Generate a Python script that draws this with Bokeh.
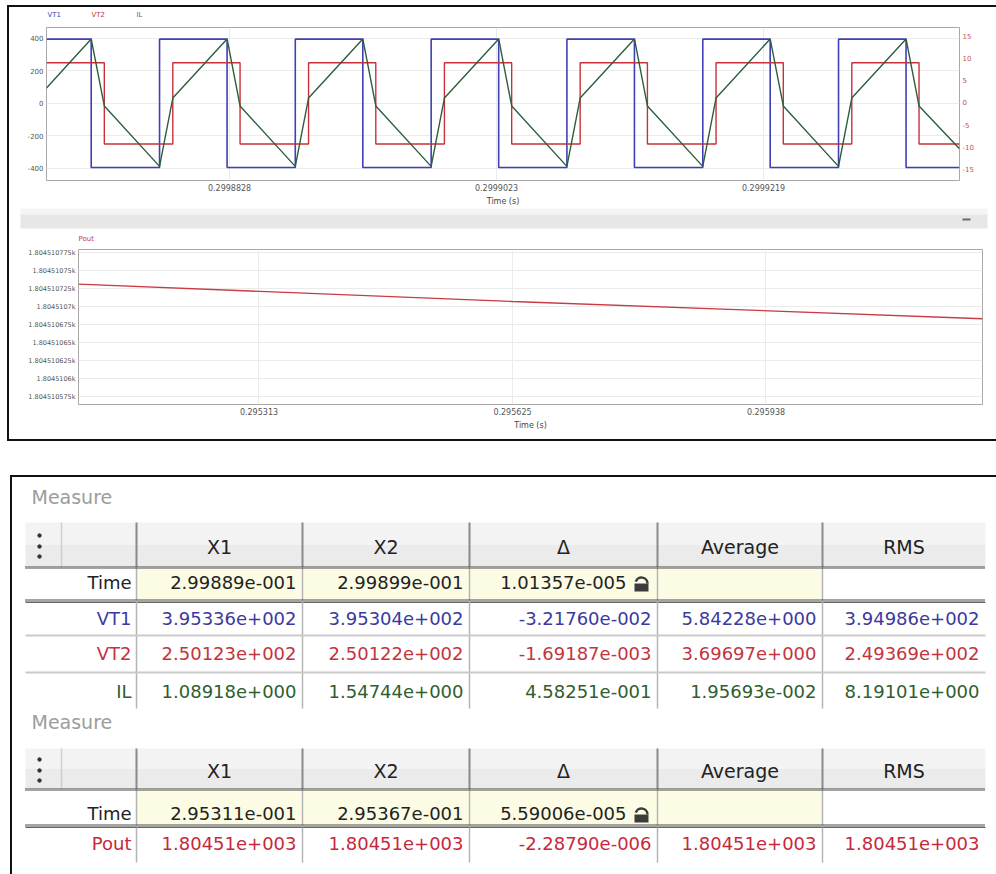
from math import pi

from bokeh.core.properties import value
from bokeh.embed import file_html
from bokeh.layouts import column
from bokeh.models import FixedTicker, LinearAxis, Range1d
from bokeh.plotting import figure
from bokeh.resources import INLINE

FONT = "DejaVu Sans"

# ---------------- waveform window: VT1, VT2 (V, left) and IL (A, right) ----------------
wave_t_range = (0.29986942, 0.29993621)
wave_v_range = (-475.0, 467.0)
wave_i_range = (-17.7, 17.0)
wave_ticks = [0.2998828125, 0.2999023438, 0.2999218750]
wave_tick_labels = ["0.2998828", "0.2999023", "0.2999219"]
v_ticks = [-400, -200, 0, 200, 400]
v_tick_labels = ["-400", "-200", "0", "200", "400"]
i_ticks = [-15, -10, -5, 0, 5, 10, 15]
i_tick_labels = ["-15", "-10", "-5", "0", "5", "10", "15"]

# switching instants (s) and the level held after each one
vt1_t = [0.29986942, 0.29987269, 0.29987769, 0.29988263, 0.29988762, 0.29989256,
         0.29989756, 0.29990250, 0.29990749, 0.29991243, 0.29991743, 0.29992236,
         0.29992736, 0.29993230, 0.29993621]
vt1_v = [395.3, -395.3, 395.3, -395.3, 395.3, -395.3, 395.3, -395.3,
         395.3, -395.3, 395.3, -395.3, 395.3, -395.3, -395.3]

vt2_t = [0.29986942, 0.29987365, 0.29987866, 0.29988358, 0.29988859, 0.29989351,
         0.29989853, 0.29990345, 0.29990846, 0.29991338, 0.29991840, 0.29992332,
         0.29992833, 0.29993325, 0.29993621]
vt2_v = [250.1, -250.1, 250.1, -250.1, 250.1, -250.1, 250.1, -250.1,
         250.1, -250.1, 250.1, -250.1, 250.1, -250.1, -250.1]

il_t = [0.29986942, 0.29987269, 0.29987365, 0.29987769, 0.29987866, 0.29988263,
        0.29988358, 0.29988762, 0.29988859, 0.29989256, 0.29989351, 0.29989756,
        0.29989853, 0.29990250, 0.29990345, 0.29990749, 0.29990846, 0.29991243,
        0.29991338, 0.29991743, 0.29991840, 0.29992236, 0.29992332, 0.29992736,
        0.29992833, 0.29993230, 0.29993325, 0.29993621]
il_a = [3.3, 14.4, -0.8, -14.5, 1.0, 14.4, -0.8, -14.5, 1.0, 14.4, -0.8, -14.5,
        1.0, 14.4, -0.8, -14.5, 1.0, 14.4, -0.8, -14.5, 1.0, 14.4, -0.8, -14.5,
        1.0, 14.4, -0.8, -10.5]
wave_series = ["VT1", "VT2", "IL"]

# ---------------- output power window ----------------
pout_t_range = (0.2950900, 0.2962044)
pout_w_range = (1804.5105639, 1804.5107792)
pout_ticks = [0.2953125, 0.295625, 0.2959375]
pout_tick_labels = ["0.295313", "0.295625", "0.295938"]
pout_w_ticks = [1804.510575, 1804.5106, 1804.510625, 1804.51065, 1804.510675,
                1804.5107, 1804.510725, 1804.51075, 1804.510775]
pout_w_tick_labels = ["1.804510575k", "1.8045106k", "1.804510625k", "1.80451065k",
                      "1.804510675k", "1.8045107k", "1.804510725k", "1.80451075k",
                      "1.804510775k"]
pout_t = [0.2950900, 0.2956250, 0.2962044]
pout_w = [1804.510731, 1804.510707, 1804.510683]

# ---------------- measurement tables ----------------
columns = ["X1", "X2", "\u0394", "Average", "RMS"]
t1_time = ["2.99889e-001", "2.99899e-001", "1.01357e-005", "", ""]
t1_vt1 = ["3.95336e+002", "3.95304e+002", "-3.21760e-002", "5.84228e+000", "3.94986e+002"]
t1_vt2 = ["2.50123e+002", "2.50122e+002", "-1.69187e-003", "3.69697e+000", "2.49369e+002"]
t1_il = ["1.08918e+000", "1.54744e+000", "4.58251e-001", "1.95693e-002", "8.19101e+000"]
t2_time = ["2.95311e-001", "2.95367e-001", "5.59006e-005", "", ""]
t2_pout = ["1.80451e+003", "1.80451e+003", "-2.28790e-006", "1.80451e+003", "1.80451e+003"]

C_VT1 = "#3f3fb8"
C_VT2 = "#c8303a"
C_IL = "#2c5e3c"
C_POUT = "#c83a44"
TXT_VT1 = "#3a3aa0"
TXT_VT2 = "#c3343e"
TXT_IL = "#2f5e2f"
TXT_POUT = "#c8283c"


def style_axis(ax, label_size="7px", color="#555555"):
    ax.axis_line_color = None
    ax.major_tick_line_color = None
    ax.minor_tick_line_color = None
    ax.major_tick_out = 0
    ax.major_tick_in = 0
    ax.minor_tick_out = 0
    ax.major_label_text_font = FONT
    ax.major_label_text_font_size = label_size
    ax.major_label_text_color = color
    ax.major_label_standoff = 3
    ax.axis_label_text_font = FONT
    ax.axis_label_text_font_size = "8px"
    ax.axis_label_text_font_style = "normal"
    ax.axis_label_text_color = "#444444"
    ax.axis_label_standoff = 3


def blank_fig(w, h, xr, yr):
    p = figure(width=w, height=h, output_backend="svg", toolbar_location=None,
               x_range=Range1d(*xr), y_range=Range1d(*yr),
               x_axis_type=None, y_axis_type=None, min_border=0)
    p.frame_align = False
    p.outline_line_color = None
    p.grid.visible = False
    p.background_fill_color = "white"
    p.border_fill_color = "white"
    return p


# ---- series names above the waveform plot ----
legend_strip = blank_fig(987, 14, (9, 996), (21, 7))
legend_strip.text(x=[47, 91, 136], y=[14, 14, 14], text=wave_series,
                  text_color=[C_VT1, C_VT2, "#666666"], text_font=value(FONT),
                  text_font_size="7px", text_baseline="middle")

# ---- waveform plot ----
wave = figure(width=987, height=187, output_backend="svg", toolbar_location=None,
              x_range=Range1d(*wave_t_range), y_range=Range1d(*wave_v_range),
              min_border_left=37, min_border_right=37, min_border_top=6,
              min_border_bottom=27)
wave.frame_align = False
wave.extra_y_ranges = {"il": Range1d(*wave_i_range)}
wave.outline_line_color = "#a8a8a8"
wave.background_fill_color = "white"
wave.border_fill_color = "white"
wave.xaxis.ticker = FixedTicker(ticks=wave_ticks)
wave.xaxis.major_label_overrides = dict(zip(wave_ticks, wave_tick_labels))
wave.xaxis.axis_label = "Time (s)"
wave.yaxis.ticker = FixedTicker(ticks=v_ticks)
wave.yaxis.major_label_overrides = dict(zip(v_ticks, v_tick_labels))
style_axis(wave.xaxis[0], "8px")
style_axis(wave.yaxis[0], "7px")
i_axis = LinearAxis(y_range_name="il", ticker=FixedTicker(ticks=i_ticks),
                    major_label_overrides=dict(zip(i_ticks, i_tick_labels)))
style_axis(i_axis, "7px", "#c85050")
wave.add_layout(i_axis, "right")
wave.xgrid.ticker = FixedTicker(ticks=wave_ticks)
wave.ygrid.ticker = FixedTicker(ticks=v_ticks)
wave.grid.grid_line_color = "#ebebeb"

wave.step(vt1_t, vt1_v, mode="after", line_color=C_VT1, line_width=1.6)
wave.step(vt2_t, vt2_v, mode="after", line_color=C_VT2, line_width=1.4)
wave.line(il_t, il_a, y_range_name="il", line_color=C_IL, line_width=1.4)

# ---- splitter strip between the two plots, with the power series name ----
sep = blank_fig(987, 35, (9, 996), (243, 208))
sep.quad(left=[20], right=[987], top=[207], bottom=[214], fill_color="#f4f4f4", line_color=None)
sep.quad(left=[20], right=[987], top=[214], bottom=[228], fill_color="#e7e7e7", line_color=None)
sep.quad(left=[962], right=[970], top=[218], bottom=[220], fill_color="#6a6a6a", line_color=None)
sep.text(x=[78], y=[238], text=["Pout"], text_color=C_POUT, text_font=value(FONT),
         text_font_size="7px", text_baseline="middle")

# ---- output power plot ----
pout = figure(width=987, height=196, output_backend="svg", toolbar_location=None,
              x_range=Range1d(*pout_t_range), y_range=Range1d(*pout_w_range),
              min_border_left=69, min_border_right=14, min_border_top=6,
              min_border_bottom=35)
pout.frame_align = False
pout.outline_line_color = "#a8a8a8"
pout.background_fill_color = "white"
pout.border_fill_color = "white"
pout.xaxis.ticker = FixedTicker(ticks=pout_ticks)
pout.xaxis.major_label_overrides = dict(zip(pout_ticks, pout_tick_labels))
pout.xaxis.axis_label = "Time (s)"
pout.yaxis.ticker = FixedTicker(ticks=pout_w_ticks)
pout.yaxis.major_label_overrides = dict(zip(pout_w_ticks, pout_w_tick_labels))
style_axis(pout.xaxis[0], "8px")
style_axis(pout.yaxis[0], "6.5px")
pout.xgrid.ticker = FixedTicker(ticks=pout_ticks)
pout.ygrid.ticker = FixedTicker(ticks=pout_w_ticks)
pout.grid.grid_line_color = "#ebebeb"
pout.line(pout_t, pout_w, line_color=C_POUT, line_width=1.3)

# ---- measurement tables ----
COL_EDGES = [25, 61, 136, 302, 469, 657, 822, 985]
tbl = blank_fig(984, 397, (12, 996), (874, 477))


def draw_table(p, measure_y, head, time_row, data_rows):
    left, right = COL_EDGES[0], COL_EDGES[-1]
    p.text(x=[31], y=[measure_y], text=["Measure"], text_font=value(FONT),
           text_font_size="19px", text_color="#9c9c9c", text_baseline="middle")

    h_top, h_bot, h_txt = head
    p.quad(left=[left], right=[right], top=[h_top], bottom=[(h_top + h_bot) / 2],
           fill_color="#f3f3f3", line_color=None)
    p.quad(left=[left], right=[right], top=[(h_top + h_bot) / 2], bottom=[h_bot],
           fill_color="#ebebeb", line_color=None)
    p.segment(x0=[COL_EDGES[1]], y0=[h_top], x1=[COL_EDGES[1]], y1=[h_bot],
              line_color="#cfcfcf", line_width=1.5)
    p.segment(x0=COL_EDGES[2:7], y0=[h_top] * 5, x1=COL_EDGES[2:7], y1=[h_bot] * 5,
              line_color="#8a8a8a", line_width=2)
    p.scatter(x=[39, 39, 39], y=[h_txt - 11, h_txt, h_txt + 10], size=3.5,
              color="#333333")
    centers = [(COL_EDGES[i] + COL_EDGES[i + 1]) / 2 for i in range(2, 7)]
    p.text(x=centers, y=[h_txt] * 5, text=columns, text_font=value(FONT),
           text_font_size="19px", text_color="#222222", text_align="center",
           text_baseline="middle")

    # time row with the yellow cursor cells and the lock mark
    t_top, t_bot, t_txt, t_vals = time_row
    p.quad(left=[COL_EDGES[2]], right=[COL_EDGES[6]], top=[t_top], bottom=[t_bot],
           fill_color="#fcfce4", line_color=None)
    p.segment(x0=COL_EDGES[2:7], y0=[t_top] * 5, x1=COL_EDGES[2:7], y1=[t_bot] * 5,
              line_color="#b4b4b4", line_width=1.5)
    p.text(x=[COL_EDGES[2] - 5], y=[t_txt], text=["Time"], text_font=value(FONT),
           text_font_size="18px", text_color="#222222", text_align="right",
           text_baseline="middle")
    xs = [COL_EDGES[3] - 6, COL_EDGES[4] - 6, COL_EDGES[5] - 31]
    p.text(x=xs, y=[t_txt] * 3, text=t_vals[:3], text_font=value(FONT),
           text_font_size="18px", text_color="#222222", text_align="right",
           text_baseline="middle")
    lx = COL_EDGES[5] - 16
    p.quad(left=[lx - 7], right=[lx + 7], top=[t_txt + 1], bottom=[t_txt + 9],
           fill_color="#3c3c3c", line_color=None)
    p.arc(x=[lx], y=[t_txt + 1], radius=6, radius_units="screen",
          start_angle=0, end_angle=pi * 0.9, line_color="#3c3c3c", line_width=2.4)

    # dotted rules under the header and the time row
    p.line([left, right], [h_bot, h_bot], line_color="#4a4a4a", line_width=3,
           line_dash="1 1")
    p.line([left, right], [t_bot, t_bot], line_color="#4a4a4a", line_width=3,
           line_dash="1 1")
    p.line([left, right], [t_bot + 2, t_bot + 2], line_color="#666666", line_width=1)

    # signal rows
    first_top = data_rows[0][0]
    last_bot = data_rows[-1][1]
    p.segment(x0=COL_EDGES[2:7], y0=[first_top] * 5, x1=COL_EDGES[2:7],
              y1=[last_bot] * 5, line_color="#b4b4b4", line_width=1.5)
    for k, (r_top, r_bot, r_txt, label, vals, color) in enumerate(data_rows):
        if k < len(data_rows) - 1:
            p.line([left, right], [r_bot, r_bot], line_color="#cacaca", line_width=2)
        p.text(x=[COL_EDGES[2] - 5], y=[r_txt], text=[label], text_font=value(FONT),
               text_font_size="18px", text_color=color, text_align="right",
               text_baseline="middle")
        p.text(x=[e - 6 for e in COL_EDGES[3:8]], y=[r_txt] * 5, text=vals,
               text_font=value(FONT), text_font_size="18px", text_color=color,
               text_align="right", text_baseline="middle")


draw_table(tbl, 496, (522, 567, 546), (567, 600, 582, t1_time),
           [(601, 635, 618, "VT1", t1_vt1, TXT_VT1),
            (635, 672, 653, "VT2", t1_vt2, TXT_VT2),
            (672, 708, 691, "IL", t1_il, TXT_IL)])
draw_table(tbl, 721, (748, 789, 770), (789, 825, 813, t2_time),
           [(827, 862, 843, "Pout", t2_pout, TXT_POUT)])

BORDER = "2px solid #111111"
top_panel = column(legend_strip, wave, sep, pout, spacing=0, margin=(5, 0, 0, 7),
                   styles={"border-top": BORDER, "border-left": BORDER,
                           "border-bottom": BORDER})
bottom_panel = column(tbl, spacing=0, margin=(34, 0, 0, 10),
                      styles={"border-top": BORDER, "border-left": BORDER})
page = column(top_panel, bottom_panel, spacing=0)

with open("out.html", "w") as f:
    f.write(file_html(page, INLINE, title="Measure"))
